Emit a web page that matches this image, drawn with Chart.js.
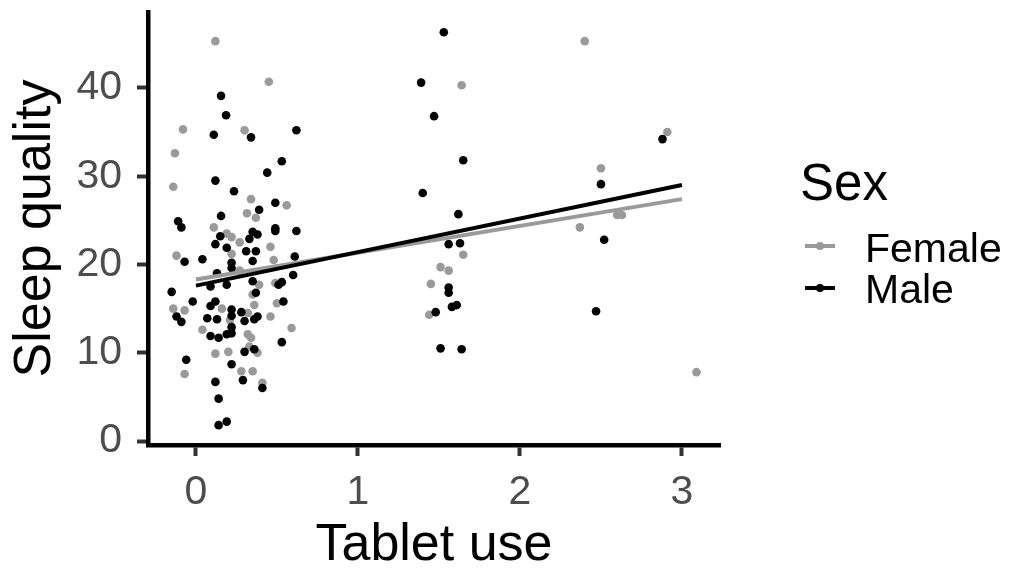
<!DOCTYPE html>
<html>
<head>
<meta charset="utf-8">
<script src="https://cdn.jsdelivr.net/npm/chart.js@4.4.1/dist/chart.umd.min.js"></script>
<style>
  body { margin: 0; background: #fff; }
  #wrap { position: relative; width: 1011px; height: 568px; }
  .lg { position: absolute; font-family: "Liberation Sans", Arial, sans-serif; color: #000; white-space: nowrap; }
  .key { position: absolute; width: 30px; height: 4px; }
  .key span { position: absolute; left: 11px; top: -2px; width: 8px; height: 8px; border-radius: 50%; }
</style>
</head>
<body>
<div id="wrap">
  <canvas id="sleepChart" width="1011" height="568"></canvas>
  <div class="lg" style="left:800px; top:157px; font-size:51px; line-height:51px;">Sex</div>
  <div class="key" style="left:805px; top:244px; background:#9a9a9a;"><span style="background:#9a9a9a;"></span></div>
  <div class="key" style="left:805px; top:286px; background:#000;"><span style="background:#000;"></span></div>
  <div class="lg" style="left:865px; top:228px; font-size:41px; line-height:41px;">Female</div>
  <div class="lg" style="left:865px; top:269px; font-size:41px; line-height:41px;">Male</div>
</div>
<script>
// tablet use (x) and sleep quality (y)
const femaleX = [0.12, 0.45, -0.08, 0.30, -0.13, -0.14, 0.34, 0.56, 0.315, 0.37, 0.11, 0.19, 0.22, 0.27, 0.46,
  -0.12, 0.22, 0.48, 0.27, 0.39, 0.49, 0.35, 0.16, -0.14, -0.07, 0.36, 0.50, 0.32, 0.46, 0.21, 0.04, 0.59,
  0.32, 0.34, 0.33, 0.38, 0.20, 0.12, 0.28, 0.35, -0.07, 0.41,
  1.64, 1.65, 1.51, 1.56, 1.45, 1.44,
  2.40, 2.91, 2.50, 2.60, 2.63, 2.37, 3.09];
const femaleY = [45.3, 40.7, 35.3, 35.2, 32.6, 28.8, 27.4, 26.7, 25.8, 25.3, 24.2, 23.5, 23.1, 22.5, 22.0,
  21.0, 21.2, 20.5, 19.3, 17.7, 17.9, 16.6, 15.0, 15.0, 14.8, 15.4, 15.6, 14.5, 14.1, 13.7, 12.6, 12.8,
  12.1, 11.7, 10.7, 10.0, 10.1, 9.9, 7.9, 7.9, 7.6, 6.6,
  40.3, 21.1, 19.7, 19.3, 17.8, 14.3,
  45.3, 35.0, 30.9, 25.6, 25.6, 24.2, 7.8];

const maleX = [0.155, 0.186, 0.11, 0.34, 0.62, 0.53, 0.44, 0.12, 0.235, 0.49, 0.39, 0.155, -0.11, -0.09, 0.49,
  0.49, 0.62, 0.15, 0.35, 0.38, 0.33, 0.12, 0.19, 0.31, 0.37, -0.07, 0.04, 0.35, 0.61, 0.22, 0.22, 0.13,
  0.60, 0.19, 0.09, 0.35, 0.53, 0.51, -0.15, 0.37, -0.02, 0.12, 0.09, 0.22, 0.54, 0.28, 0.22, -0.12, -0.09,
  0.07, 0.13, 0.30, 0.36, 0.38, 0.22, 0.09, 0.14, 0.19, 0.22, 0.53, 0.36, 0.30, -0.06, 0.22, 0.12, 0.29,
  0.41, 0.14, 0.19, 0.14,
  1.53, 1.39, 1.47, 1.65, 1.40, 1.62, 1.56, 1.63, 1.56, 1.56, 1.61, 1.58, 1.48, 1.51, 1.64,
  2.88, 2.50, 2.52, 2.47];
const maleY = [39.1, 36.9, 34.7, 34.4, 35.2, 31.7, 30.4, 29.5, 28.3, 27.0, 26.2, 25.5, 24.9, 24.2, 24.1,
  23.8, 23.8, 23.2, 23.7, 23.4, 22.9, 22.3, 21.9, 21.5, 21.5, 20.3, 20.6, 20.4, 20.9, 20.2, 19.6, 19.0,
  18.8, 17.7, 17.5, 18.1, 18.0, 17.7, 16.9, 16.8, 15.8, 15.8, 15.3, 14.9, 15.8, 14.6, 14.2, 14.1, 13.5,
  13.9, 13.8, 13.6, 13.8, 14.1, 12.9, 11.9, 11.7, 12.1, 12.2, 11.2, 10.4, 10.1, 9.2, 8.7, 6.7, 6.9,
  6.0, 4.8, 2.2, 1.8,
  46.3, 40.6, 36.8, 31.8, 28.1, 25.7, 22.3, 22.4, 17.4, 16.8, 15.4, 15.2, 14.6, 10.5, 10.4,
  34.2, 29.1, 22.8, 14.7];

// linear fit end points per group
const fitX = [0, 3];
const femaleFit = [18.3, 27.4];
const maleFit = [17.6, 29.0];

const xTicks = [0, 1, 2, 3];
const yTicks = [0, 10, 20, 30, 40];

const FONT = '"Liberation Sans", Arial, sans-serif';
const GREY = '#9a9a9a';

const toPoints = (xs, ys) => xs.map((x, i) => ({ x: x, y: ys[i] }));

const ctx = document.getElementById('sleepChart').getContext('2d');
new Chart(ctx, {
  type: 'scatter',
  data: {
    datasets: [
      {
        label: 'Male fit', type: 'line', data: toPoints(fitX, maleFit),
        borderColor: '#000', borderWidth: 4, pointRadius: 0, fill: false, order: 0
      },
      {
        label: 'Female fit', type: 'line', data: toPoints(fitX, femaleFit),
        borderColor: GREY, borderWidth: 4, pointRadius: 0, fill: false, order: 1
      },
      {
        label: 'Male', data: toPoints(maleX, maleY),
        backgroundColor: '#000', borderWidth: 0, pointRadius: 4.3, order: 2
      },
      {
        label: 'Female', data: toPoints(femaleX, femaleY),
        backgroundColor: GREY, borderWidth: 0, pointRadius: 4.3, order: 3
      }
    ]
  },
  options: {
    responsive: false,
    animation: false,
    devicePixelRatio: 1,
    layout: { padding: { top: 12, right: 291, left: 0, bottom: 0 } },
    scales: {
      x: {
        type: 'linear',
        min: -0.296,
        max: 3.235,
        afterBuildTicks: s => { s.ticks = xTicks.map(v => ({ value: v })); },
        afterFit: s => { s.height = 123; s.paddingLeft = 0; s.paddingRight = 0; },
        grid: { drawOnChartArea: false, tickLength: 11, tickWidth: 4, tickColor: '#333' },
        border: { display: true, color: '#000', width: 4.5 },
        ticks: { font: { family: FONT, size: 41 }, color: '#4d4d4d', padding: 12, maxRotation: 0 },
        title: {
          display: true, text: 'Tablet use', color: '#000',
          font: { family: FONT, size: 52, lineHeight: 0.8 }, padding: { top: 0, bottom: 2 }
        }
      },
      y: {
        type: 'linear',
        min: -0.45,
        max: 48.6,
        afterBuildTicks: s => { s.ticks = yTicks.map(v => ({ value: v })); },
        afterFit: s => { s.width = 148; s.paddingTop = 0; s.paddingBottom = 0; },
        grid: { drawOnChartArea: false, tickLength: 11, tickWidth: 4, tickColor: '#333' },
        border: { display: true, color: '#000', width: 4.5 },
        ticks: { font: { family: FONT, size: 41 }, color: '#4d4d4d', padding: 15 },
        title: {
          display: true, text: 'Sleep quality', color: '#000',
          font: { family: FONT, size: 52, lineHeight: 0.8 }, padding: { top: 15, bottom: 0 }
        }
      }
    },
    plugins: {
      legend: { display: false },
      tooltip: { enabled: false }
    }
  }
});
</script>
</body>
</html>
